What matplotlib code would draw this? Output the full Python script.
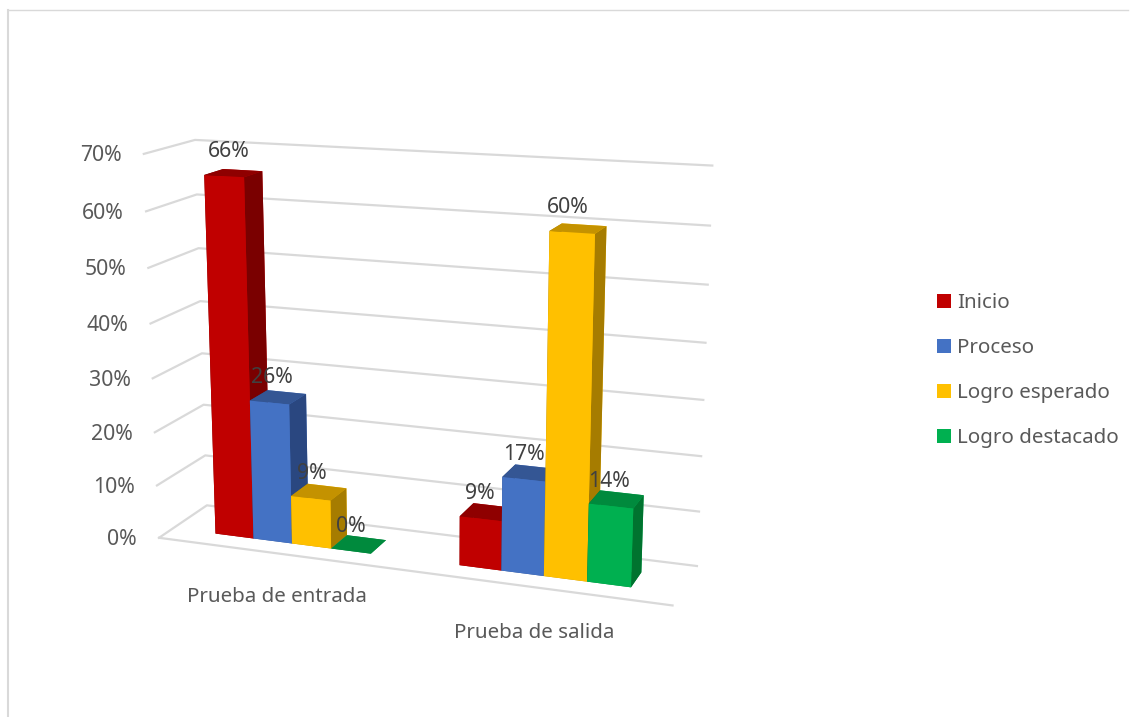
import matplotlib
matplotlib.use('Agg')
import matplotlib.pyplot as plt
from matplotlib.lines import Line2D
from matplotlib.patches import Patch
from mpl_toolkits.mplot3d import proj3d

plt.rcParams['font.family'] = ['Noto Sans', 'DejaVu Sans']

categorias = ['Prueba de entrada', 'Prueba de salida']
inicio = [66, 9]
proceso = [26, 17]
logro_esperado = [9, 60]
logro_destacado = [0, 14]
niveles = ['Inicio', 'Proceso', 'Logro esperado', 'Logro destacado']
ticks_z = [0, 10, 20, 30, 40, 50, 60, 70]

series = [inicio, proceso, logro_esperado, logro_destacado]
# color por serie: frente, tapa, lado
colores = [('#C00000', '#8F0000', '#7A0000'),
           ('#4472C4', '#345694', '#2A4780'),
           ('#FFC000', '#C49200', '#A67C00'),
           ('#00B050', '#008A3D', '#00732F')]

W, H = 1131, 717
fig = plt.figure(figsize=(W / 100, H / 100), dpi=100)
ax = fig.add_subplot(projection='3d')
ax.set_xlim(0, 2)
ax.set_ylim(0, 1)
ax.set_zlim(0, 70)
ax.set_axis_off()
ax.computed_zorder = False

# camara: k reduce la imagen sin cambiar la perspectiva
k = 2.2
ax.view_init(elev=14.4734, azim=-69.7781, roll=0.0891)
ax.set_box_aspect((1.3541, 0.2747, 1), zoom=1.9808 / k)
ax.set_proj_type('persp', focal_length=1 / k)

# ubicar los ejes en pixeles
esc = 1827.924 * k
cx, cy = 421.785, 361.015
vl = ax.viewLim
izq, der = cx + esc * vl.x0, cx + esc * vl.x1
arr, aba = cy - esc * vl.y1, cy - esc * vl.y0
ax.set_position([izq / W, 1 - aba / H, (der - izq) / W, (aba - arr) / H])
M = ax.get_proj()


def etiqueta(x, y, z, texto, dx=0, dy=0, **kw):
    # texto 2D sobre un punto 3D proyectado, con ajuste en pixeles (dy hacia arriba)
    px, py, _ = proj3d.proj_transform(x, y, z, M)
    ax.annotate(texto, (px, py), xycoords='data', xytext=(dx, dy),
                textcoords='offset pixels', va='center', annotation_clip=False, **kw)


# rejilla: pared lateral, pared del fondo y borde del piso
gris = '#D9D9D9'
tam = 14.8
tam_num = 15.3
for z in ticks_z:
    ax.plot([0, 0, 2], [0, 1, 1], [z, z, z], color=gris, lw=1.6, zorder=1)
    etiqueta(0, 0, z, f'{z}%', dx=-22, dy=-2, ha='right', fontsize=tam_num, color='#595959')
ax.plot([0, 2], [0, 0], [0, 0], color=gris, lw=1.6, zorder=1)

# barras de izquierda a derecha, la mas cercana queda encima
inicio_x = [0.1824, 1.1785]
ancho = 0.1613
y0, y1 = 0.2875, 0.6727
for g in range(len(categorias)):
    for i, valores in enumerate(series):
        fr, tapa, lado = colores[i]
        x = inicio_x[g] + i * ancho
        # caras de bar3d: abajo, arriba, -y, +y, -x, +x
        ax.bar3d(x, y0, 0, ancho, y1 - y0, valores[g], shade=False,
                 color=[tapa, tapa, fr, fr, lado, lado], linewidth=0, zorder=10 + 10 * g + i)

# ajuste horizontal de cada etiqueta de valor, en pixeles
ajuste_x = [[5, 2, 1, 0], [-1, 0, -4, -2]]
for g in range(len(categorias)):
    for i, valores in enumerate(series):
        x = inicio_x[g] + (i + 0.5) * ancho
        etiqueta(x, y0, valores[g], f'{valores[g]}%', dx=ajuste_x[g][i], dy=25,
                 ha='center', fontsize=tam_num, color='#404040', zorder=50)

for g, nombre in enumerate(categorias):
    etiqueta(g + 0.52, -0.15, -7, nombre, ha='center', fontsize=tam, color='#595959')

manejadores = [Patch(facecolor=c[0], linewidth=0) for c in colores]
fig.legend(manejadores, niveles, loc='center left', bbox_to_anchor=(937 / W, 1 - 370.5 / H),
           frameon=False, fontsize=tam, handlelength=0.68, handleheight=0.68,
           handletextpad=0.28, labelspacing=1.22, labelcolor='#595959', borderpad=0,
           borderaxespad=0)

# marco del grafico, solo arriba y a la izquierda
fig.add_artist(Line2D([8 / W, 1128 / W], [1 - 10 / H, 1 - 10 / H], color=gris, lw=1))
fig.add_artist(Line2D([8 / W, 8 / W], [1 - 10 / H, 0], color=gris, lw=1.5))

fig.savefig('out.png', dpi=100)
